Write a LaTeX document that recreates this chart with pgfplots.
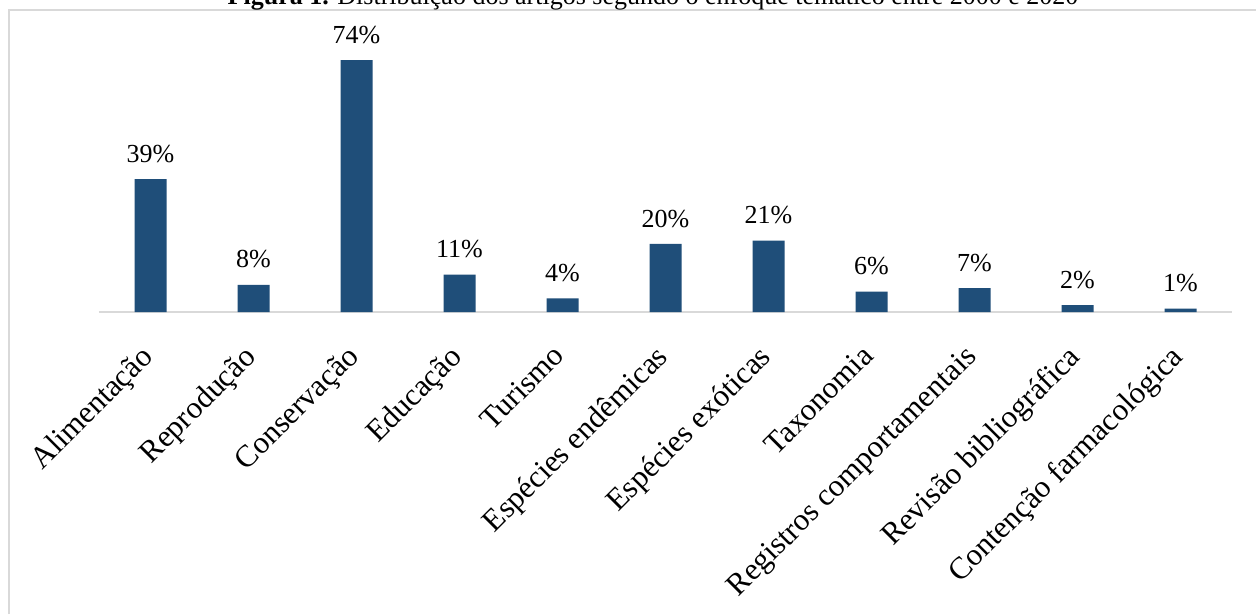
\documentclass[border=0pt]{standalone}
\usepackage{pgfplots}
\pgfplotsset{compat=1.18}
\usepackage{fontspec}
\setmainfont{Liberation Serif}
\definecolor{barblue}{HTML}{1F4E79}
\definecolor{framegray}{HTML}{D9D9D9}
\begin{document}
\begin{tikzpicture}[x=1pt,y=1pt]
\clip (0,0) rectangle (1256,-614);
\fill[white] (0,0) rectangle (1256,-614);
\draw[framegray, line width=2pt] (9,-614) -- (9,-10) -- (1256,-10);
\node[anchor=base, font=\fontsize{26}{30}\selectfont, inner sep=0pt] at (653,-4) {\textbf{Figura 1.} Distribuição dos artigos segundo o enfoque temático entre 2000 e 2020};
\begin{axis}[
  at={(99pt,-312pt)}, anchor=south west,
  scale only axis, width=1133pt, height=272.4pt,
  xmin=-0.5, xmax=10.5, ymin=0, ymax=80,
  axis x line=bottom, axis y line=none,
  x axis line style={-, draw=framegray, line width=2pt},
  ybar, bar width=32pt,
  xtick=data, major tick length=0pt,
  xticklabels={Alimentação, Reprodução, Conservação, Educação, Turismo, Espécies endêmicas, Espécies exóticas, Taxonomia, Registros comportamentais, Revisão bibliográfica, Contenção farmacológica},
  xticklabel style={rotate=45, anchor=north east, font=\fontsize{31}{34}\selectfont, inner sep=0pt, yshift=-14pt, xshift=-30pt},
  /pgf/number format/assume math mode=true,
  nodes near coords={\pgfmathprintnumber{\pgfplotspointmeta}\%},
  every node near coord/.append style={font=\fontsize{26}{30}\selectfont, text=black, anchor=south, yshift=13pt},
  clip=false,
]
\addplot[fill=barblue, draw=none] coordinates {
(0,39) (1,8) (2,74) (3,11) (4,4) (5,20) (6,21) (7,6) (8,7) (9,2) (10,1)
};
\end{axis}
\end{tikzpicture}
\end{document}
